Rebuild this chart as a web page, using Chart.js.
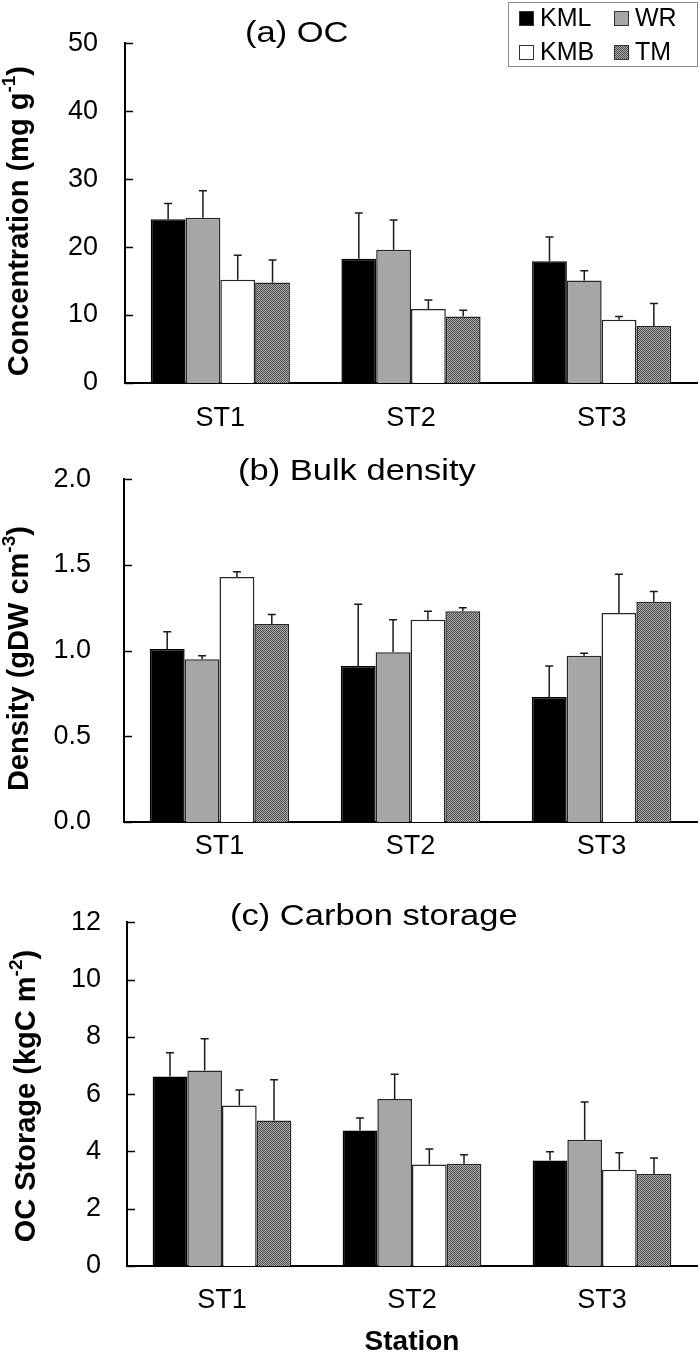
<!DOCTYPE html>
<html>
<head>
<meta charset="utf-8">
<script src="https://cdn.jsdelivr.net/npm/chart.js@4.4.1/dist/chart.umd.min.js"></script>
<style>
  body { margin: 0; background: #fff; }
  #wrap { position: relative; width: 700px; height: 1359px; }
  canvas { position: absolute; left: 0; }
</style>
</head>
<body>
<div id="wrap">
  <canvas id="chartA" width="700" height="430" style="top:0"></canvas>
  <canvas id="chartB" width="700" height="450" style="top:430px"></canvas>
  <canvas id="chartC" width="700" height="479" style="top:880px"></canvas>
</div>
<script>
const FONT = "'Liberation Sans', Arial, sans-serif";

const stations = ['ST1', 'ST2', 'ST3'];
const seriesNames = ['KML', 'WR', 'KMB', 'TM'];

// (a) OC concentration, mg/g
const ocKML = [24.1, 18.3, 17.9];
const ocWR  = [24.3, 19.6, 15.1];
const ocKMB = [15.2, 10.9, 9.3];
const ocTM  = [14.8, 9.8, 8.4];
const ocErrKML = [2.3, 6.7, 3.6];
const ocErrWR  = [4.0, 4.4, 1.4];
const ocErrKMB = [3.6, 1.3, 0.5];
const ocErrTM  = [3.3, 0.9, 3.3];
const ocTicks = [0, 10, 20, 30, 40, 50];

// (b) bulk density, gDW/cm3
const bdKML = [1.01, 0.91, 0.73];
const bdWR  = [0.95, 0.99, 0.97];
const bdKMB = [1.43, 1.18, 1.22];
const bdTM  = [1.155, 1.23, 1.285];
const bdErrKML = [0.10, 0.36, 0.18];
const bdErrWR  = [0.02, 0.19, 0.015];
const bdErrKMB = [0.03, 0.05, 0.225];
const bdErrTM  = [0.055, 0.02, 0.06];
const bdTicks = [0, 0.5, 1.0, 1.5, 2.0];

// (c) carbon storage, kgC/m2
const csKML = [6.61, 4.73, 3.68];
const csWR  = [6.82, 5.83, 4.41];
const csKMB = [5.6, 3.54, 3.36];
const csTM  = [5.08, 3.57, 3.21];
const csErrKML = [0.83, 0.44, 0.31];
const csErrWR  = [1.11, 0.86, 1.31];
const csErrKMB = [0.54, 0.54, 0.59];
const csErrTM  = [1.42, 0.31, 0.56];
const csTicks = [0, 2, 4, 6, 8, 10, 12];

function dotPattern() {
  const c = document.createElement('canvas');
  c.width = 2; c.height = 2;
  const g = c.getContext('2d');
  g.fillStyle = '#b4b4b4'; g.fillRect(0, 0, 2, 2);
  g.fillStyle = '#444444'; g.fillRect(0, 0, 1, 1); g.fillRect(1, 1, 1, 1);
  return g.createPattern(c, 'repeat');
}
const tmPattern = dotPattern();
const fills = ['#000000', '#a6a6a6', '#ffffff', tmPattern];

// upward error bars
const errorBars = {
  id: 'errorBars',
  afterDatasetsDraw(chart) {
    const ctx = chart.ctx, y = chart.scales.y;
    ctx.save();
    ctx.strokeStyle = '#1a1a1a';
    ctx.lineWidth = 1.5;
    chart.data.datasets.forEach((ds, i) => {
      chart.getDatasetMeta(i).data.forEach((bar, j) => {
        const top = y.getPixelForValue(ds.data[j] + ds.errors[j]);
        ctx.beginPath();
        ctx.moveTo(bar.x, bar.y);
        ctx.lineTo(bar.x, top);
        ctx.moveTo(bar.x - 4, top);
        ctx.lineTo(bar.x + 4, top);
        ctx.stroke();
      });
    });
    ctx.restore();
  }
};

// tick marks pointing into the plot
const inwardTicks = {
  id: 'inwardTicks',
  afterDraw(chart) {
    const ctx = chart.ctx, y = chart.scales.y, left = chart.chartArea.left;
    ctx.save();
    ctx.strokeStyle = '#000';
    ctx.lineWidth = 1.5;
    y.ticks.forEach(t => {
      const py = Math.round(y.getPixelForValue(t.value)) + 0.5;
      ctx.beginPath();
      ctx.moveTo(left, py);
      ctx.lineTo(left + 8, py);
      ctx.stroke();
    });
    ctx.restore();
  }
};

// panel title, y title with superscript, legend
const panelText = {
  id: 'panelText',
  afterDraw(chart, args, opts) {
    const ctx = chart.ctx, area = chart.chartArea;
    ctx.save();
    ctx.fillStyle = '#000';
    ctx.font = '30px ' + FONT;
    ctx.textBaseline = 'alphabetic';
    ctx.textAlign = 'left';
    ctx.translate(opts.titleX, opts.titleY);
    ctx.scale(1.15, 1);
    ctx.fillText(opts.title, 0, 0);
    ctx.restore();

    // y axis title
    ctx.save();
    ctx.fillStyle = '#000';
    const main = 'bold 29px ' + FONT, sup = 'bold 19px ' + FONT;
    ctx.font = main; const w1 = ctx.measureText(opts.yTitle[0]).width;
    ctx.font = sup; const w2 = ctx.measureText(opts.yTitle[1]).width;
    ctx.font = main; const w3 = ctx.measureText(opts.yTitle[2]).width;
    const total = w1 + w2 + w3;
    ctx.translate(opts.yTitleX, (area.top + area.bottom) / 2 + opts.yShift);
    ctx.rotate(-Math.PI / 2);
    let x = -total / 2;
    ctx.textBaseline = 'middle';
    ctx.font = main; ctx.fillText(opts.yTitle[0], x, 0); x += w1;
    ctx.font = sup; ctx.fillText(opts.yTitle[1], x, -10); x += w2;
    ctx.font = main; ctx.fillText(opts.yTitle[2], x, 0);
    ctx.restore();

    if (opts.legend) {
      ctx.save();
      ctx.strokeStyle = '#8c8c8c';
      ctx.lineWidth = 1;
      ctx.strokeRect(508.5, 2.5, 189, 64);
      const spots = [[519, 11], [614, 11], [519, 45], [614, 45]];
      ctx.font = '25px ' + FONT;
      ctx.textBaseline = 'middle';
      chart.data.datasets.forEach((ds, n) => {
        const [sx, sy] = spots[n];
        ctx.fillStyle = ds.backgroundColor;
        ctx.fillRect(sx, sy, 15, 15);
        ctx.strokeStyle = '#333';
        ctx.strokeRect(sx + 0.5, sy + 0.5, 14, 14);
        ctx.fillStyle = '#000';
        ctx.fillText(ds.label, sx + 21, sy + 8);
      });
      ctx.restore();
    }
  }
};

function makePanel(id, cfg) {
  return new Chart(document.getElementById(id), {
    type: 'bar',
    data: {
      labels: stations,
      datasets: seriesNames.map((name, i) => ({
        label: name,
        data: cfg.values[i],
        errors: cfg.errors[i],
        backgroundColor: fills[i],
        borderColor: i === 0 ? '#000' : '#262626',
        borderWidth: 1.5,
        categoryPercentage: 0.73,
        barPercentage: 1
      }))
    },
    options: {
      responsive: false,
      animation: false,
      devicePixelRatio: 1,
      layout: { padding: { top: cfg.top, right: 3, left: 0, bottom: 0 } },
      plugins: {
        legend: { display: false },
        tooltip: { enabled: false },
        panelText: cfg
      },
      scales: {
        x: {
          grid: { display: false, drawTicks: false },
          border: { display: true, color: '#000', width: 2 },
          ticks: { color: '#000', font: { family: FONT, size: 27 }, padding: cfg.xPad },
          title: cfg.xTitle ? {
            display: true, text: cfg.xTitle, color: '#000',
            font: { family: FONT, size: 28, weight: 'bold' }, padding: { top: 0, bottom: 0 }
          } : { display: false },
          afterFit: s => { s.height = cfg.xHeight; }
        },
        y: {
          min: 0,
          max: cfg.ticks[cfg.ticks.length - 1],
          grid: { display: false, drawTicks: false },
          border: { display: true, color: '#000', width: 2 },
          ticks: {
            color: '#000', font: { family: FONT, size: 27 }, padding: cfg.yPad,
            callback: v => cfg.fmt(v)
          },
          afterBuildTicks: s => { s.ticks = cfg.ticks.map(v => ({ value: v })); },
          afterFit: s => { s.width = cfg.left; }
        }
      }
    },
    plugins: [errorBars, inwardTicks, panelText]
  });
}

makePanel('chartA', {
  values: [ocKML, ocWR, ocKMB, ocTM],
  errors: [ocErrKML, ocErrWR, ocErrKMB, ocErrTM],
  ticks: ocTicks, fmt: v => String(v),
  top: 29, left: 125, xHeight: 47, xPad: 19, yPad: 27,
  title: '(a) OC', titleX: 245, titleY: 42,
  yTitle: ['Concentration (mg g', '-1', ')'], yTitleX: 20, yShift: 8,
  legend: true
});

makePanel('chartB', {
  values: [bdKML, bdWR, bdKMB, bdTM],
  errors: [bdErrKML, bdErrWR, bdErrKMB, bdErrTM],
  ticks: bdTicks, fmt: v => v.toFixed(1),
  top: 37, left: 124, xHeight: 58, xPad: 8, yPad: 33,
  title: '(b) Bulk density', titleX: 238, titleY: 50,
  yTitle: ['Density (gDW cm', '-3', ')'], yTitleX: 20, yShift: 8,
  legend: false
});

makePanel('chartC', {
  values: [csKML, csWR, csKMB, csTM],
  errors: [csErrKML, csErrWR, csErrKMB, csErrTM],
  ticks: csTicks, fmt: v => String(v),
  top: 39, left: 127, xHeight: 93, xPad: 18, yPad: 26,
  title: '(c) Carbon storage', titleX: 230, titleY: 45,
  yTitle: ['OC Storage (kgC m', '-2', ')'], yTitleX: 27, yShift: 2,
  xTitle: 'Station',
  legend: false
});
</script>
</body>
</html>
